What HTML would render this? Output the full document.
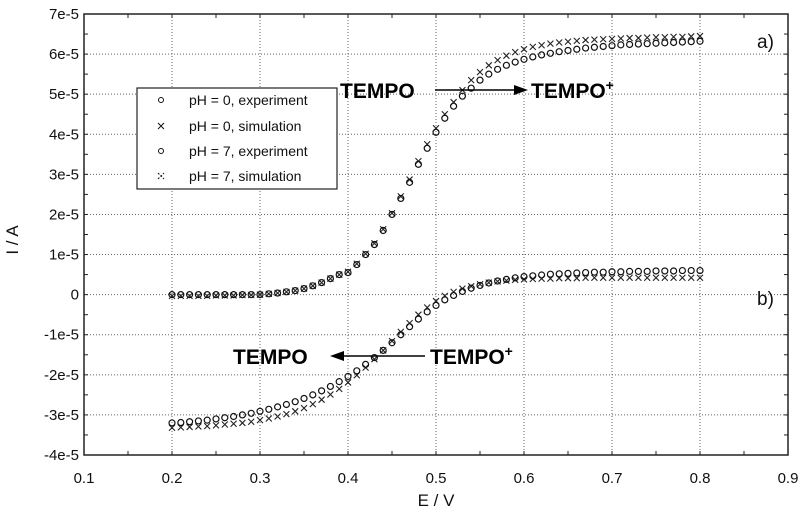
<!DOCTYPE html>
<html><head><meta charset="utf-8"><style>
body{margin:0;background:#fff;width:800px;height:516px;overflow:hidden}
svg{display:block;font-family:"Liberation Sans",Arial,sans-serif}
</style></head><body>
<svg id="c" width="800" height="516" viewBox="0 0 800 516"></svg>
<script>
const xs=[];for(let i=0;i<=60;i++)xs.push(+(0.2+i*0.01).toFixed(2));
const aExp=[0,0,0,0,0,0,0,0,0,0,0,
0.02,0.04,0.07,0.1,0.15,0.22,0.3,0.4,0.5,0.55,
0.75,1.0,1.25,1.6,2.0,2.4,2.8,3.25,3.65,4.05,
4.4,4.7,4.95,5.15,5.35,5.5,5.62,5.72,5.8,5.87,
5.93,5.98,6.02,6.06,6.09,6.12,6.15,6.17,6.19,6.21,
6.23,6.24,6.25,6.26,6.27,6.28,6.29,6.3,6.31,6.32];
const aSim=[-0.03,-0.03,-0.03,-0.03,-0.03,-0.02,-0.02,-0.02,-0.01,-0.01,0,
0.02,0.04,0.07,0.1,0.15,0.22,0.3,0.4,0.5,0.57,
0.77,1.02,1.28,1.63,2.03,2.45,2.87,3.33,3.75,4.15,
4.5,4.8,5.1,5.35,5.55,5.72,5.85,5.96,6.05,6.12,
6.18,6.22,6.26,6.29,6.31,6.33,6.35,6.36,6.37,6.38,
6.39,6.4,6.4,6.41,6.42,6.42,6.43,6.43,6.44,6.45];
const bExp=[-3.20,-3.19,-3.17,-3.15,-3.13,-3.10,-3.07,-3.04,-3.00,-2.96,-2.91,
-2.86,-2.80,-2.74,-2.67,-2.59,-2.50,-2.40,-2.29,-2.17,-2.04,
-1.90,-1.74,-1.57,-1.39,-1.20,-1.00,-0.80,-0.61,-0.43,-0.27,
-0.13,-0.02,0.08,0.16,0.23,0.29,0.34,0.38,0.42,0.45,
0.47,0.49,0.51,0.52,0.53,0.54,0.55,0.56,0.56,0.57,
0.57,0.58,0.58,0.58,0.59,0.59,0.59,0.60,0.60,0.60];
const bSim=[-3.32,-3.31,-3.30,-3.29,-3.28,-3.26,-3.24,-3.22,-3.20,-3.17,-3.13,
-3.09,-3.04,-2.98,-2.91,-2.83,-2.73,-2.62,-2.49,-2.35,-2.19,
-2.01,-1.82,-1.61,-1.39,-1.16,-0.93,-0.71,-0.50,-0.32,-0.16,
-0.03,0.07,0.15,0.21,0.26,0.30,0.33,0.35,0.37,0.38,
0.39,0.40,0.40,0.41,0.41,0.41,0.42,0.42,0.42,0.42,
0.42,0.42,0.42,0.42,0.42,0.42,0.42,0.42,0.42,0.42];
const xTicks=[0.1,0.2,0.3,0.4,0.5,0.6,0.7,0.8,0.9];
const yTicks=[7,6,5,4,3,2,1,0,-1,-2,-3,-4];
const yLabels=["7e-5","6e-5","5e-5","4e-5","3e-5","2e-5","1e-5","0","-1e-5","-2e-5","-3e-5","-4e-5"];
const L=84,R=788,T=14,B=455;
const X=v=>L+(v-0.1)/0.8*(R-L);
const Y=v=>T+(7-v)/11*(B-T);
const svg=document.getElementById('c');const NS='http://www.w3.org/2000/svg';
function mk(t,a,p){const e=document.createElementNS(NS,t);for(const k in a)e.setAttribute(k,a[k]);(p||svg).appendChild(e);return e;}
xTicks.forEach((v,i)=>{
 const g=mk('line',{x1:X(v),x2:X(v),y1:T,y2:B,stroke:'#666','stroke-dasharray':'1,2','stroke-width':1});
 
 const t=mk('text',{x:X(v),y:B+28,'text-anchor':'middle','font-size':15,fill:'#111'});t.textContent=v.toFixed(1);
 
});
for(let v=0.1;v<0.9;v+=0.05){mk('line',{x1:X(v),x2:X(v),y1:B,y2:B-4,stroke:'#222'});mk('line',{x1:X(v),x2:X(v),y1:T,y2:T+4,stroke:'#222'});}
yTicks.forEach((v,i)=>{
 const g=mk('line',{x1:L,x2:R,y1:Y(v),y2:Y(v),stroke:'#666','stroke-dasharray':'1,2','stroke-width':1});
 
 const t=mk('text',{x:L-5,y:Y(v)+5,'text-anchor':'end','font-size':15,fill:'#111'});t.textContent=yLabels[i];
 
});
for(let v=-4;v<7;v+=0.5){mk('line',{x1:L,x2:L+4,y1:Y(v),y2:Y(v),stroke:'#222'});mk('line',{x1:R,x2:R-4,y1:Y(v),y2:Y(v),stroke:'#222'});}
const fr=mk('rect',{x:L,y:T,width:R-L,height:B-T,fill:'none',stroke:'#222','stroke-width':1.5});

function circ(x,y,name){const c=mk('circle',{cx:x,cy:y,r:3,fill:'none',stroke:'#111','stroke-width':1.2});
 }
function cross(x,y,name){const p=mk('path',{d:`M${x-3},${y-3}L${x+3},${y+3}M${x-3},${y+3}L${x+3},${y-3}`,stroke:'#222','stroke-width':1.1,fill:'none'});
 }
xs.forEach((v,i)=>{
 cross(X(v),Y(aSim[i]),'ph0-sim-point');
 circ(X(v),Y(aExp[i]),'ph0-exp-point');
 cross(X(v),Y(bSim[i]),'ph7-sim-point');
 circ(X(v),Y(bExp[i]),'ph7-exp-point');
});
</script>
<svg style="position:absolute;left:0;top:0" width="800" height="516" font-family="Liberation Sans, Arial, sans-serif">
<g>
<rect x="137" y="88" width="200" height="101" fill="#fff" stroke="#222" stroke-width="1.2"/>
<circle cx="161" cy="100" r="2.5" fill="none" stroke="#111"/>
<path d="M158,123L164,129M158,129L164,123" stroke="#111"/>
<circle cx="161" cy="151" r="2.5" fill="none" stroke="#111"/>
<path d="M158,173L164,179M158,179L164,173" stroke="#111" stroke-dasharray="2,1.5"/>
<g font-size="14" fill="#111">
<text x="189" y="105">pH = 0, experiment</text>
<text x="189" y="131">pH = 0, simulation</text>
<text x="189" y="156">pH = 7, experiment</text>
<text x="189" y="181">pH = 7, simulation</text>
</g></g>
<g font-weight="bold" font-size="21" fill="#000">
<text x="340" y="98">TEMPO</text>
<line x1="435" y1="90" x2="518" y2="90" stroke="#000" stroke-width="1.5"/>
<path d="M528,90L514,85L514,95Z" fill="#000"/>
<text x="531" y="98">TEMPO<tspan font-size="14" dy="-8">+</tspan></text>
<text x="233" y="364">TEMPO</text>
<line x1="340" y1="356" x2="425" y2="356" stroke="#000" stroke-width="1.5"/>
<path d="M330,356L344,351L344,361Z" fill="#000"/>
<text x="430" y="364">TEMPO<tspan font-size="14" dy="-8">+</tspan></text>
</g>
<text x="757" y="48" font-size="19" fill="#111">a)</text>
<text x="757" y="305" font-size="19" fill="#111">b)</text>
<text x="436" y="506" font-size="17" fill="#111" text-anchor="middle">E / V</text>
<text transform="translate(18,240) rotate(-90)" font-size="17" fill="#111" text-anchor="middle">I / A</text>
</svg>
</body></html>
